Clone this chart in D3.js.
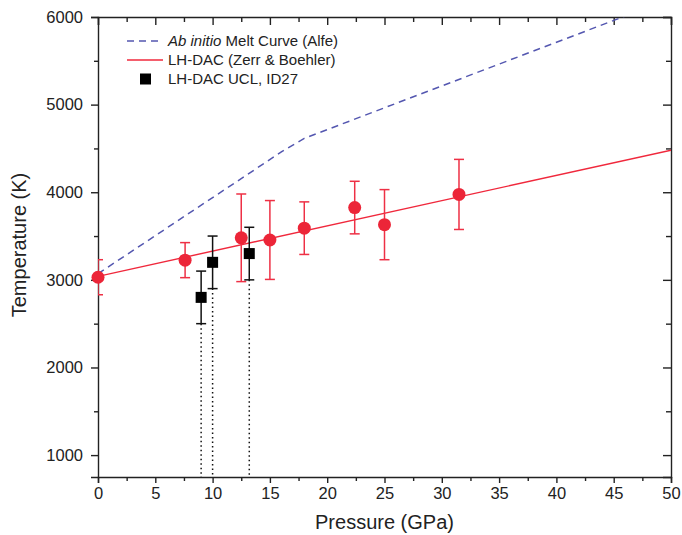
<!DOCTYPE html>
<html lang="en">
<head>
  <meta charset="UTF-8" />
  <title>Melt curve</title>
  <style>
    body { margin: 0; background: #fff; }
    text { font-family: "Liberation Sans", Arial, Helvetica, sans-serif; fill: #222; }
    .axis path, .axis line { stroke: #222; stroke-width: 1.4; }
    .axis text { font-size: 16.5px; fill: #222; }
  </style>
</head>
<body>
  <svg width="682" height="535"></svg>
  <script src="https://d3js.org/d3.v7.min.js"></script>
  <script>
    // data
    const meltP = [0, 16, 18, 50];
    const meltT = [3070, 4460, 4615, 6210];

    const fitP = [0, 50];
    const fitT = [3040, 4480];

    const redP = [0, 7.6, 12.5, 15, 18, 22.4, 25, 31.5];
    const redT = [3030, 3225, 3480, 3455, 3590, 3825, 3630, 3975];
    const redErr = [200, 200, 500, 450, 300, 300, 400, 400];

    const uclP = [9, 10, 13.2];
    const uclT = [2800, 3200, 3300];
    const uclErr = [300, 300, 300];

    const xTicks = [0, 5, 10, 15, 20, 25, 30, 35, 40, 45, 50];
    const yTicks = [1000, 2000, 3000, 4000, 5000, 6000];

    const legendLabels = ["Melt Curve (Alfe)", "LH-DAC (Zerr & Boehler)", "LH-DAC UCL, ID27"];

    const margin = { top: 17, right: 11, bottom: 58, left: 98 };
    const width = 682 - margin.left - margin.right;
    const height = 535 - margin.top - margin.bottom;

    const svg = d3.select("svg");
    const g = svg.append("g").attr("transform", `translate(${margin.left},${margin.top})`);

    const x = d3.scaleLinear().domain([0, 50]).range([0, width]);
    const y = d3.scaleLinear().domain([750, 6000]).range([height, 0]);

    const xMinor = d3.range(2.5, 50, 5);
    const yMinor = d3.range(1500, 6000, 1000);

    g.append("defs").append("clipPath").attr("id", "clip")
      .append("rect").attr("width", width).attr("height", height);

    // axes
    g.append("g").attr("class", "axis").attr("transform", `translate(0,${height})`)
      .call(d3.axisBottom(x).tickValues(xTicks).tickSize(6).tickPadding(4));
    g.append("g").attr("class", "axis").attr("transform", `translate(0,${height})`)
      .call(d3.axisBottom(x).tickValues(xMinor).tickSize(4).tickFormat(""))
      .select(".domain").remove();

    g.append("g").attr("class", "axis")
      .call(d3.axisTop(x).tickValues(xTicks).tickSize(-8).tickFormat(""));
    g.append("g").attr("class", "axis")
      .call(d3.axisTop(x).tickValues(xMinor).tickSize(-5).tickFormat(""))
      .select(".domain").remove();

    g.append("g").attr("class", "axis")
      .call(d3.axisLeft(y).tickValues(yTicks).tickSize(7).tickPadding(8).tickFormat(d3.format("d")));
    g.append("g").attr("class", "axis")
      .call(d3.axisLeft(y).tickValues(yMinor).tickSize(4).tickFormat(""))
      .select(".domain").remove();

    g.append("g").attr("class", "axis").attr("transform", `translate(${width},0)`)
      .call(d3.axisRight(y).tickValues(yTicks).tickSize(-8).tickFormat(""));
    g.append("g").attr("class", "axis").attr("transform", `translate(${width},0)`)
      .call(d3.axisRight(y).tickValues(yMinor).tickSize(-5).tickFormat(""))
      .select(".domain").remove();

    // axis titles
    svg.append("text")
      .attr("x", margin.left + width / 2).attr("y", 529)
      .attr("text-anchor", "middle").style("font-size", "20px")
      .text("Pressure (GPa)");
    svg.append("text")
      .attr("transform", `translate(26,${margin.top + 228}) rotate(-90)`)
      .attr("text-anchor", "middle").style("font-size", "20px")
      .text("Temperature (K)");

    const plot = g.append("g").attr("clip-path", "url(#clip)");
    const line = d3.line().x(d => x(d[0])).y(d => y(d[1]));

    // ab initio melt curve
    plot.append("path")
      .datum(meltP.map((p, i) => [p, meltT[i]]))
      .attr("d", line)
      .attr("fill", "none").attr("stroke", "#5457b0").attr("stroke-width", 1.5)
      .attr("stroke-dasharray", "7,5");

    // linear fit
    plot.append("path")
      .datum(fitP.map((p, i) => [p, fitT[i]]))
      .attr("d", line)
      .attr("fill", "none").attr("stroke", "#f0283c").attr("stroke-width", 1.4);

    // dotted drop lines for UCL
    plot.selectAll(".drop")
      .data(uclP)
      .join("line")
      .attr("x1", d => x(d)).attr("x2", d => x(d))
      .attr("y1", (d, i) => y(uclT[i] - uclErr[i])).attr("y2", height)
      .attr("stroke", "#111").attr("stroke-width", 1.5)
      .attr("stroke-dasharray", "1.5,3");

    // error bars
    function errBars(sel, P, T, E, color) {
      const gg = sel.append("g").attr("stroke", color).attr("stroke-width", 1.5);
      P.forEach((p, i) => {
        const cx = x(p), y1 = y(T[i] + E[i]), y2 = y(T[i] - E[i]);
        gg.append("line").attr("x1", cx).attr("x2", cx).attr("y1", y1).attr("y2", y2);
        gg.append("line").attr("x1", cx - 5).attr("x2", cx + 5).attr("y1", y1).attr("y2", y1);
        gg.append("line").attr("x1", cx - 5).attr("x2", cx + 5).attr("y1", y2).attr("y2", y2);
      });
    }

    errBars(plot, redP, redT, redErr, "#ee3045");
    errBars(plot, uclP, uclT, uclErr, "#111");

    g.selectAll(".red")
      .data(redP)
      .join("circle")
      .attr("cx", d => x(d)).attr("cy", (d, i) => y(redT[i]))
      .attr("r", 6.5).attr("fill", "#ec2538");

    g.selectAll(".ucl")
      .data(uclP)
      .join("rect")
      .attr("x", d => x(d) - 5.5).attr("y", (d, i) => y(uclT[i]) - 5.5)
      .attr("width", 11).attr("height", 11).attr("fill", "#000");

    // legend
    const leg = svg.append("g").style("font-size", "15px");
    const rows = [41, 60, 79];
    leg.append("line").attr("x1", 127).attr("x2", 160).attr("y1", rows[0]).attr("y2", rows[0])
      .attr("stroke", "#5457b0").attr("stroke-width", 1.5).attr("stroke-dasharray", "7,5");
    leg.append("line").attr("x1", 127).attr("x2", 163).attr("y1", rows[1]).attr("y2", rows[1])
      .attr("stroke", "#f0283c").attr("stroke-width", 1.4);
    leg.append("rect").attr("x", 140).attr("y", rows[2] - 5.5).attr("width", 11).attr("height", 11)
      .attr("fill", "#000");

    const t0 = leg.append("text").attr("x", 168).attr("y", rows[0]).attr("dy", "0.35em");
    t0.append("tspan").style("font-style", "italic").text("Ab initio");
    t0.append("tspan").text(" " + legendLabels[0]);
    leg.append("text").attr("x", 168).attr("y", rows[1]).attr("dy", "0.35em").text(legendLabels[1]);
    leg.append("text").attr("x", 168).attr("y", rows[2]).attr("dy", "0.35em").text(legendLabels[2]);
  </script>
</body>
</html>
